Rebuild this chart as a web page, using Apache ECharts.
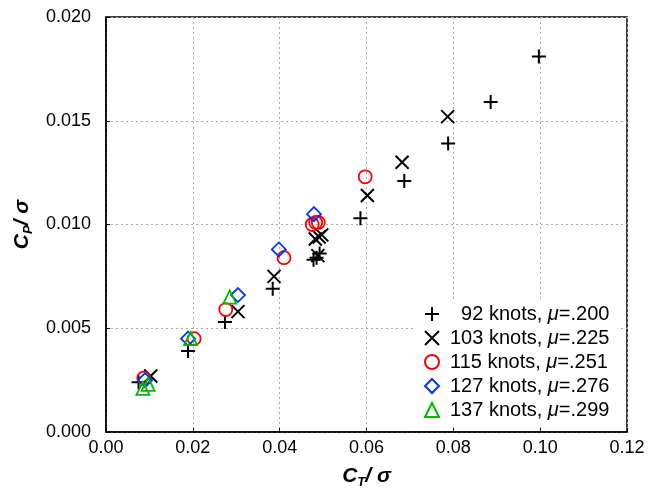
<!DOCTYPE html>
<html><head><meta charset="utf-8">
<script src="https://cdn.jsdelivr.net/npm/echarts@6/dist/echarts.min.js"></script>
<style>html,body{margin:0;padding:0;background:#fff}#c{width:648px;height:489px}</style>
</head><body><div id="c"></div>
<script>
// Series names
const seriesNames = ['92 knots, μ=.200', '103 knots, μ=.225', '115 knots, μ=.251', '127 knots, μ=.276', '137 knots, μ=.299'];
// 92 knots (+)
const ct92 = [0.0075, 0.0189, 0.0274, 0.0384, 0.0478, 0.0485, 0.0492, 0.0586, 0.0687, 0.0788, 0.0886, 0.0997];
const cp92 = [0.0024, 0.0039, 0.0053, 0.0069, 0.0083, 0.0084, 0.0086, 0.0103, 0.0121, 0.0139, 0.0159, 0.0181];
// 103 knots (x)
const ct103 = [0.0103, 0.0304, 0.0387, 0.0482, 0.0491, 0.0497, 0.0488, 0.0602, 0.0682, 0.0787];
const cp103 = [0.0027, 0.0058, 0.0075, 0.0093, 0.0094, 0.0095, 0.0085, 0.0114, 0.0130, 0.0152];
// 115 knots (o)
const ct115 = [0.0087, 0.0203, 0.0276, 0.0410, 0.0475, 0.0483, 0.0489, 0.0597];
const cp115 = [0.0026, 0.0045, 0.0059, 0.0084, 0.0100, 0.0101, 0.0101, 0.0123];
// 127 knots (diamond)
const ct127 = [0.0090, 0.0189, 0.0304, 0.0398, 0.0479];
const cp127 = [0.0025, 0.0045, 0.0066, 0.0088, 0.0105];
// 137 knots (triangle)
const ct137 = [0.0085, 0.0097, 0.0195, 0.0285];
const cp137 = [0.0021, 0.0023, 0.0045, 0.0065];

const zip = (a, b) => a.map((v, i) => [v, b[i]]);
const FONT = 'Liberation Sans';

const plusPath = 'path://M0,6 L12,6 M6,0 L6,12';
const crossPath = 'path://M0,0 L12,12 M12,0 L0,12';

function mk(name, data, symbol, size, color, bw) {
  return {
    name, type: 'scatter', data, symbol, symbolSize: size,
    itemStyle: { color: 'rgba(0,0,0,0)', borderColor: color, borderWidth: bw, opacity: 1 },
    emphasis: { disabled: true }, z: 3
  };
}

const legendRich = {
  n: { fontFamily: FONT, fontSize: 20, color: '#000' },
  i: { fontFamily: FONT, fontSize: 20, color: '#000', fontStyle: 'italic' }
};
const legendLabel = {};
seriesNames.forEach(s => {
  const parts = s.split('μ');
  const pad = s.startsWith('92') ? '\u2007' : '';
  legendLabel[s] = '{n|' + pad + parts[0] + '}{i|μ}{n|' + parts[1] + '}';
});

const titleRich = {
  b: { fontFamily: FONT, fontSize: 21, fontWeight: 'bold', fontStyle: 'italic', color: '#000', lineHeight: 26 },
  s: { fontFamily: FONT, fontSize: 13, fontWeight: 'bold', fontStyle: 'italic', color: '#000', lineHeight: 13, verticalAlign: 'bottom' }
};

const chart = echarts.init(document.getElementById('c'));
chart.setOption({
  animation: false,
  backgroundColor: '#fff',
  grid: { left: 106, right: 21, top: 17, bottom: 57, containLabel: false, outerBoundsMode: 'none',
          show: true, borderColor: '#000', borderWidth: 1.5, backgroundColor: 'transparent' },
  xAxis: {
    type: 'value', min: 0, max: 0.12, interval: 0.02,
    name: '{b|C}{s|T}{b|/ σ}', nameLocation: 'middle', nameGap: 31,
    nameTextStyle: { rich: titleRich },
    axisLine: { lineStyle: { color: '#000', width: 1.5 } },
    axisTick: { inside: true, length: 4, lineStyle: { color: '#000' } },
    axisLabel: { fontFamily: FONT, fontSize: 18, color: '#000', margin: 7, formatter: v => v.toFixed(2) },
    splitLine: { show: true, lineStyle: { color: '#aaa', type: [2, 3], width: 1 } }
  },
  yAxis: {
    type: 'value', min: 0, max: 0.02, interval: 0.005,
    name: '{b|C}{s|P}{b|/ σ}', nameLocation: 'middle', nameGap: 70, nameRotate: 90,
    nameTextStyle: { rich: titleRich },
    axisLine: { lineStyle: { color: '#000', width: 1.5 } },
    axisTick: { inside: true, length: 4, lineStyle: { color: '#000' } },
    axisLabel: { fontFamily: FONT, fontSize: 18, color: '#000', margin: 15, formatter: v => v.toFixed(3) },
    splitLine: { show: true, lineStyle: { color: '#aaa', type: [2, 3], width: 1 } }
  },
  legend: {
    orient: 'vertical', left: 416, top: 299,
    backgroundColor: '#fff', padding: [5, 8, 6, 8],
    itemWidth: 14, itemHeight: 14, itemGap: 4,
    data: seriesNames,
    formatter: name => legendLabel[name],
    textStyle: { rich: legendRich, padding: [0, 0, 0, 6] }
  },
  series: [
    mk(seriesNames[0], zip(ct92, cp92), plusPath, 14, '#000', 2),
    mk(seriesNames[1], zip(ct103, cp103), crossPath, 13, '#000', 2),
    mk(seriesNames[2], zip(ct115, cp115), 'circle', 13, '#ff0000', 1.8),
    mk(seriesNames[3], zip(ct127, cp127), 'diamond', 14, '#0033ff', 1.8),
    mk(seriesNames[4], zip(ct137, cp137), 'triangle', 13, '#00bb00', 1.8)
  ]
});
</script></body></html>
